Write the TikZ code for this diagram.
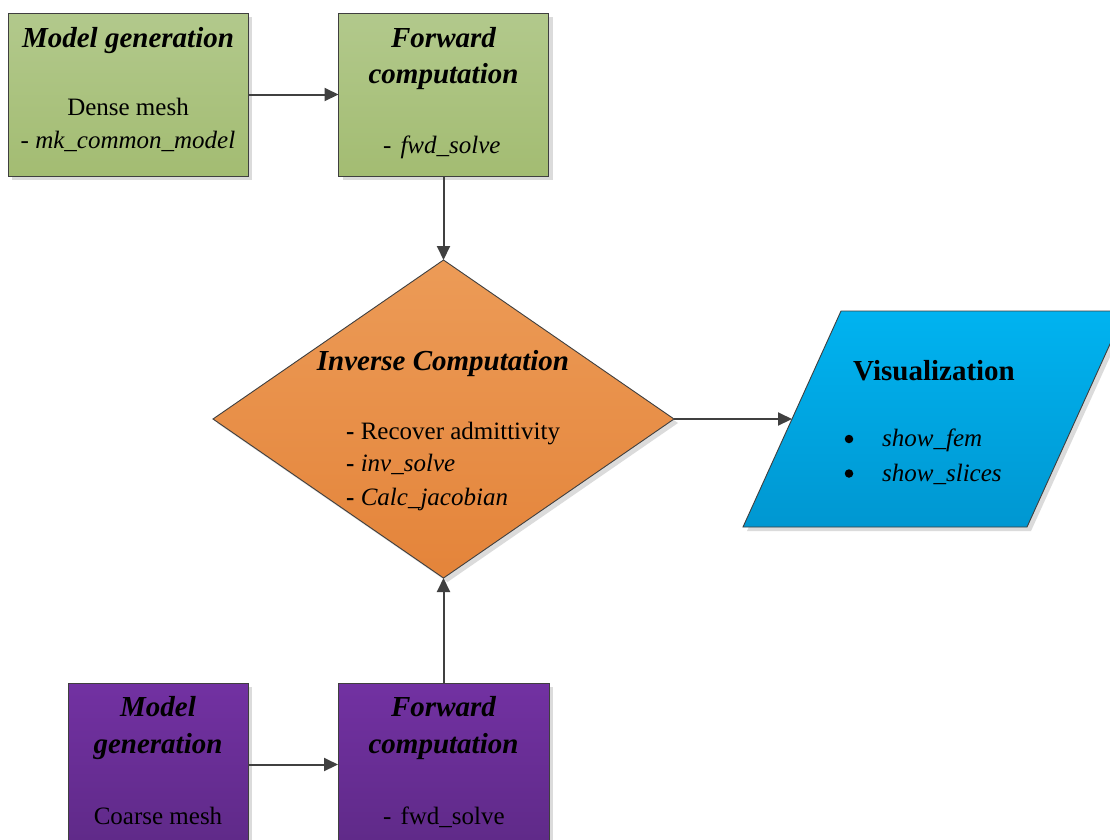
\documentclass[tikz,border=0pt]{standalone}
\usepackage{fontspec}
\setmainfont{Liberation Serif}
\usetikzlibrary{shapes.geometric,arrows.meta,shadows}

\definecolor{edgegray}{HTML}{3F3F3F}
\definecolor{arrowgray}{HTML}{404040}
\definecolor{grnTop}{HTML}{B2C98C}
\definecolor{grnBot}{HTML}{A3BC72}
\definecolor{orgTop}{HTML}{EC9B57}
\definecolor{orgBot}{HTML}{E4843A}
\definecolor{bluTop}{HTML}{00B3F0}
\definecolor{bluBot}{HTML}{0097D1}
\definecolor{purTop}{HTML}{7231A2}
\definecolor{purBot}{HTML}{5F2A88}

\tikzset{
  shape base/.style={draw=edgegray, line width=0.9pt, inner sep=0pt, outer sep=0pt,
    drop shadow={shadow xshift=4pt, shadow yshift=-4pt, fill=black!14, opacity=1}},
  greenbox/.style={shape base, rectangle, top color=grnTop, bottom color=grnBot},
  purplebox/.style={shape base, rectangle, top color=purTop, bottom color=purBot},
  decision/.style={shape base, diamond, top color=orgTop, bottom color=orgBot},
  output/.style={shape base, top color=bluTop, bottom color=bluBot},
  flow/.style={draw=arrowgray, line width=2pt, -{Triangle[length=14pt,width=13pt]}},
  head/.style={font=\fontsize{29}{34}\selectfont\bfseries\itshape, anchor=base, inner sep=0pt},
  headup/.style={font=\fontsize{29}{34}\selectfont\bfseries, anchor=base, inner sep=0pt},
  body/.style={font=\fontsize{25}{30}\selectfont, anchor=base, inner sep=0pt},
  bulletmark/.style={circle, fill=black, inner sep=0pt, minimum size=8.5pt},
}

\begin{document}
\begin{tikzpicture}[x=1pt,y=-1pt]
\useasboundingbox (0,0) rectangle (1110,839);
\clip (0,0) rectangle (1110,839);
\fill[white] (0,0) rectangle (1110,839);

% dense-mesh branch
\node[greenbox, minimum width=240pt, minimum height=163pt] (g1) at (128,94.5) {};
\node[greenbox, minimum width=210pt, minimum height=163pt] (g2) at (443.5,94.5) {};

% coarse-mesh branch
\node[purplebox, minimum width=180pt, minimum height=163pt] (p1) at (158,764.5) {};
\node[purplebox, minimum width=211pt, minimum height=163pt] (p2) at (443.5,764.5) {};

% inverse step
\node[decision, minimum width=461pt, minimum height=318pt] (inv) at (443.5,419) {};

% visualization: a slanted parallelogram, entered at the middle of its left side
\path[output] (743,527) -- (1027,527) -- (1125,311) -- (841,311) -- cycle;
\coordinate (visin) at (792,419);

% connectors
\draw[flow] (g1.east) -- (g2.west);
\draw[flow] (g2.south) -- (inv.north);
\draw[flow] (inv.east) -- (visin);
\draw[flow] (p1.east) -- (p2.west);
\draw[flow] (p2.north) -- (inv.south);

% texts of the dense-mesh branch
\node[head] (g1h) at (128,47) {Model generation};
\node[body] (g1a) at (128,115) {Dense mesh};
\node[body] (g1b) at (128,148) {- \textit{mk\_common\_model}};
\node[head] (g2h) at (443.5,47) {Forward};
\node[head] (g2i) at (443.5,83) {computation};
\node[body, anchor=base west] (g2a) at (383,153) {-\hspace{9pt}\textit{fwd\_solve}};

% texts of the inverse step
\node[head] (invh) at (443,370.5) {Inverse Computation};
\node[body, anchor=base west] (inva) at (346,439) {\textbf{-} Recover admittivity};
\node[body, anchor=base west] (invb) at (346,471.5) {\textbf{-} \textit{inv\_solve}};
\node[body, anchor=base west] (invc) at (346,505) {\textbf{-} \textit{Calc\_jacobian}};

% texts of the visualization step
\node[headup] (vish) at (934,380) {Visualization};
\node[bulletmark] (visd1) at (849,439) {};
\node[bulletmark] (visd2) at (849,473.5) {};
\node[body, anchor=base west] (visa) at (882,446.5) {\textit{show\_fem}};
\node[body, anchor=base west] (visb) at (882,481) {\textit{show\_slices}};

% texts of the coarse-mesh branch
\node[head] (p1h) at (158,716.5) {Model};
\node[head] (p1i) at (158,753) {generation};
\node[body] (p1a) at (158,824) {Coarse mesh};
\node[head] (p2h) at (443.5,716.5) {Forward};
\node[head] (p2i) at (443.5,753) {computation};
\node[body, anchor=base west] (p2a) at (383,824) {-\hspace{9pt}fwd\_solve};
\end{tikzpicture}
\end{document}
